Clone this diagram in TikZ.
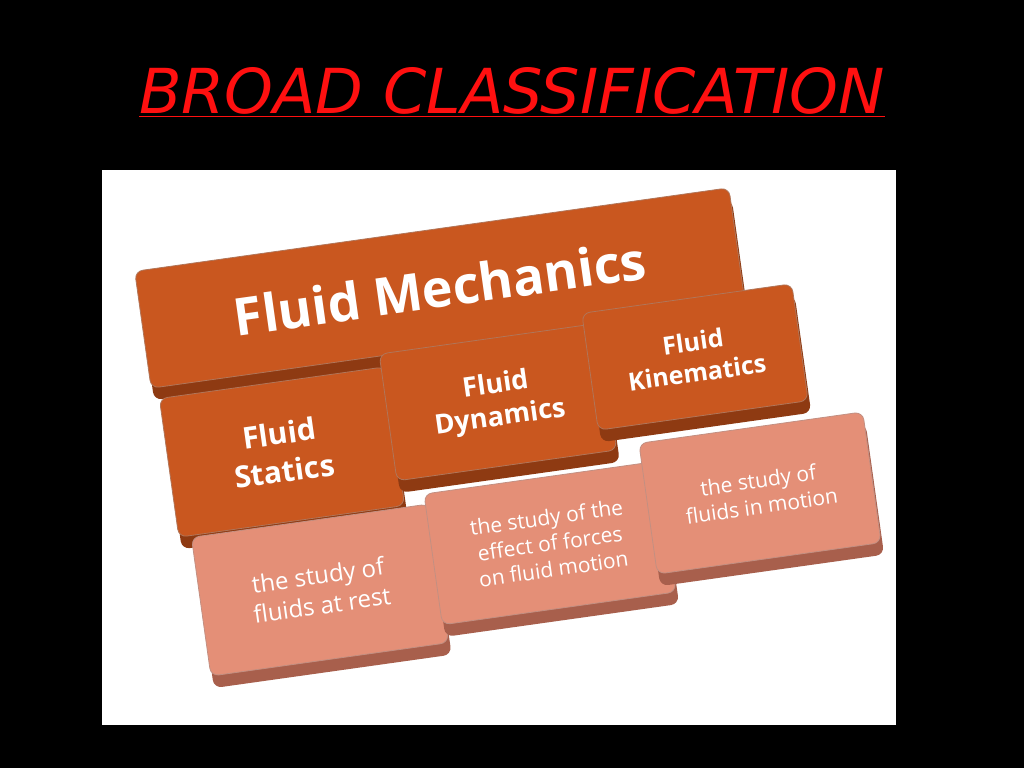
\documentclass[tikz,border=0pt]{standalone}
\usepackage{fontspec}
\setmainfont{DejaVu Sans}
\newfontfamily\boxfont{Open Sans}
\definecolor{dark}{HTML}{C9571F}
\definecolor{darkside}{HTML}{8E3A12}
\definecolor{light}{HTML}{E48F77}
\definecolor{lightside}{HTML}{A85F4C}
\definecolor{titlered}{HTML}{FF1010}
\tikzset{
 blk/.style={rounded corners=8pt, rotate=8, minimum width=#1, inner sep=0pt},
 top/.style={fill=dark, draw=darkside!70, line width=0.8pt},
 side/.style={fill=darkside},
 ltop/.style={fill=light, draw=lightside!70, line width=0.8pt},
 lside/.style={fill=lightside},
 lbl/.style={text=white, font=\boxfont\bfseries, align=center, rotate=8},
}
\begin{document}
\begin{tikzpicture}[x=1pt,y=-1pt]
\fill[black] (0,0) rectangle (1024,768);
\useasboundingbox (0,0) rectangle (1024,768);
\node[text=titlered] (title) at (512,92) {\fontsize{62}{70}\selectfont\itshape\underline{BROAD CLASSIFICATION}};
\fill[white] (102,170) rectangle (896,725);
\newcommand\mybox[7]{% name, x, y, w, h, topstyle, sidestyle
 \node[blk=#4, minimum height=#5, #7] (#1s) at (#2+3,#3+12) {};
 \node[blk=#4, minimum height=#5, #6] (#1) at (#2,#3) {};
}
\mybox{fm}{440}{288}{600}{118}{top}{side}
\mybox{fs}{282}{452}{228}{140}{top}{side}
\mybox{fd}{498}{402}{222}{128}{top}{side}
\mybox{fk}{695}{357}{212}{118}{top}{side}
\mybox{ls}{320}{590}{240}{140}{ltop}{lside}
\mybox{ld}{550}{543}{236}{132}{ltop}{lside}
\mybox{lk}{760}{493}{226}{132}{ltop}{lside}
\begin{scope}[every node/.style={lbl}]
\node[font=\boxfont\bfseries\fontsize{52}{58}\selectfont] (tfm) at (fm) {Fluid Mechanics};
\node[font=\boxfont\bfseries\fontsize{30}{38}\selectfont] (tfs) at (fs) {Fluid\\Statics};
\node[font=\boxfont\bfseries\fontsize{27}{33}\selectfont] (tfd) at (fd) {Fluid\\Dynamics};
\node[font=\boxfont\bfseries\fontsize{25}{31}\selectfont] (tfk) at (fk) {Fluid\\Kinematics};
\node[font=\boxfont\fontsize{24}{30}\selectfont] (tls) at (ls) {the study of\\fluids at rest};
\node[font=\boxfont\fontsize{21}{26}\selectfont] (tld) at (ld) {the study of the\\effect of forces\\on fluid motion};
\node[font=\boxfont\fontsize{21}{26}\selectfont] (tlk) at (lk) {the study of\\fluids in motion};
\end{scope}
\end{tikzpicture}
\end{document}
